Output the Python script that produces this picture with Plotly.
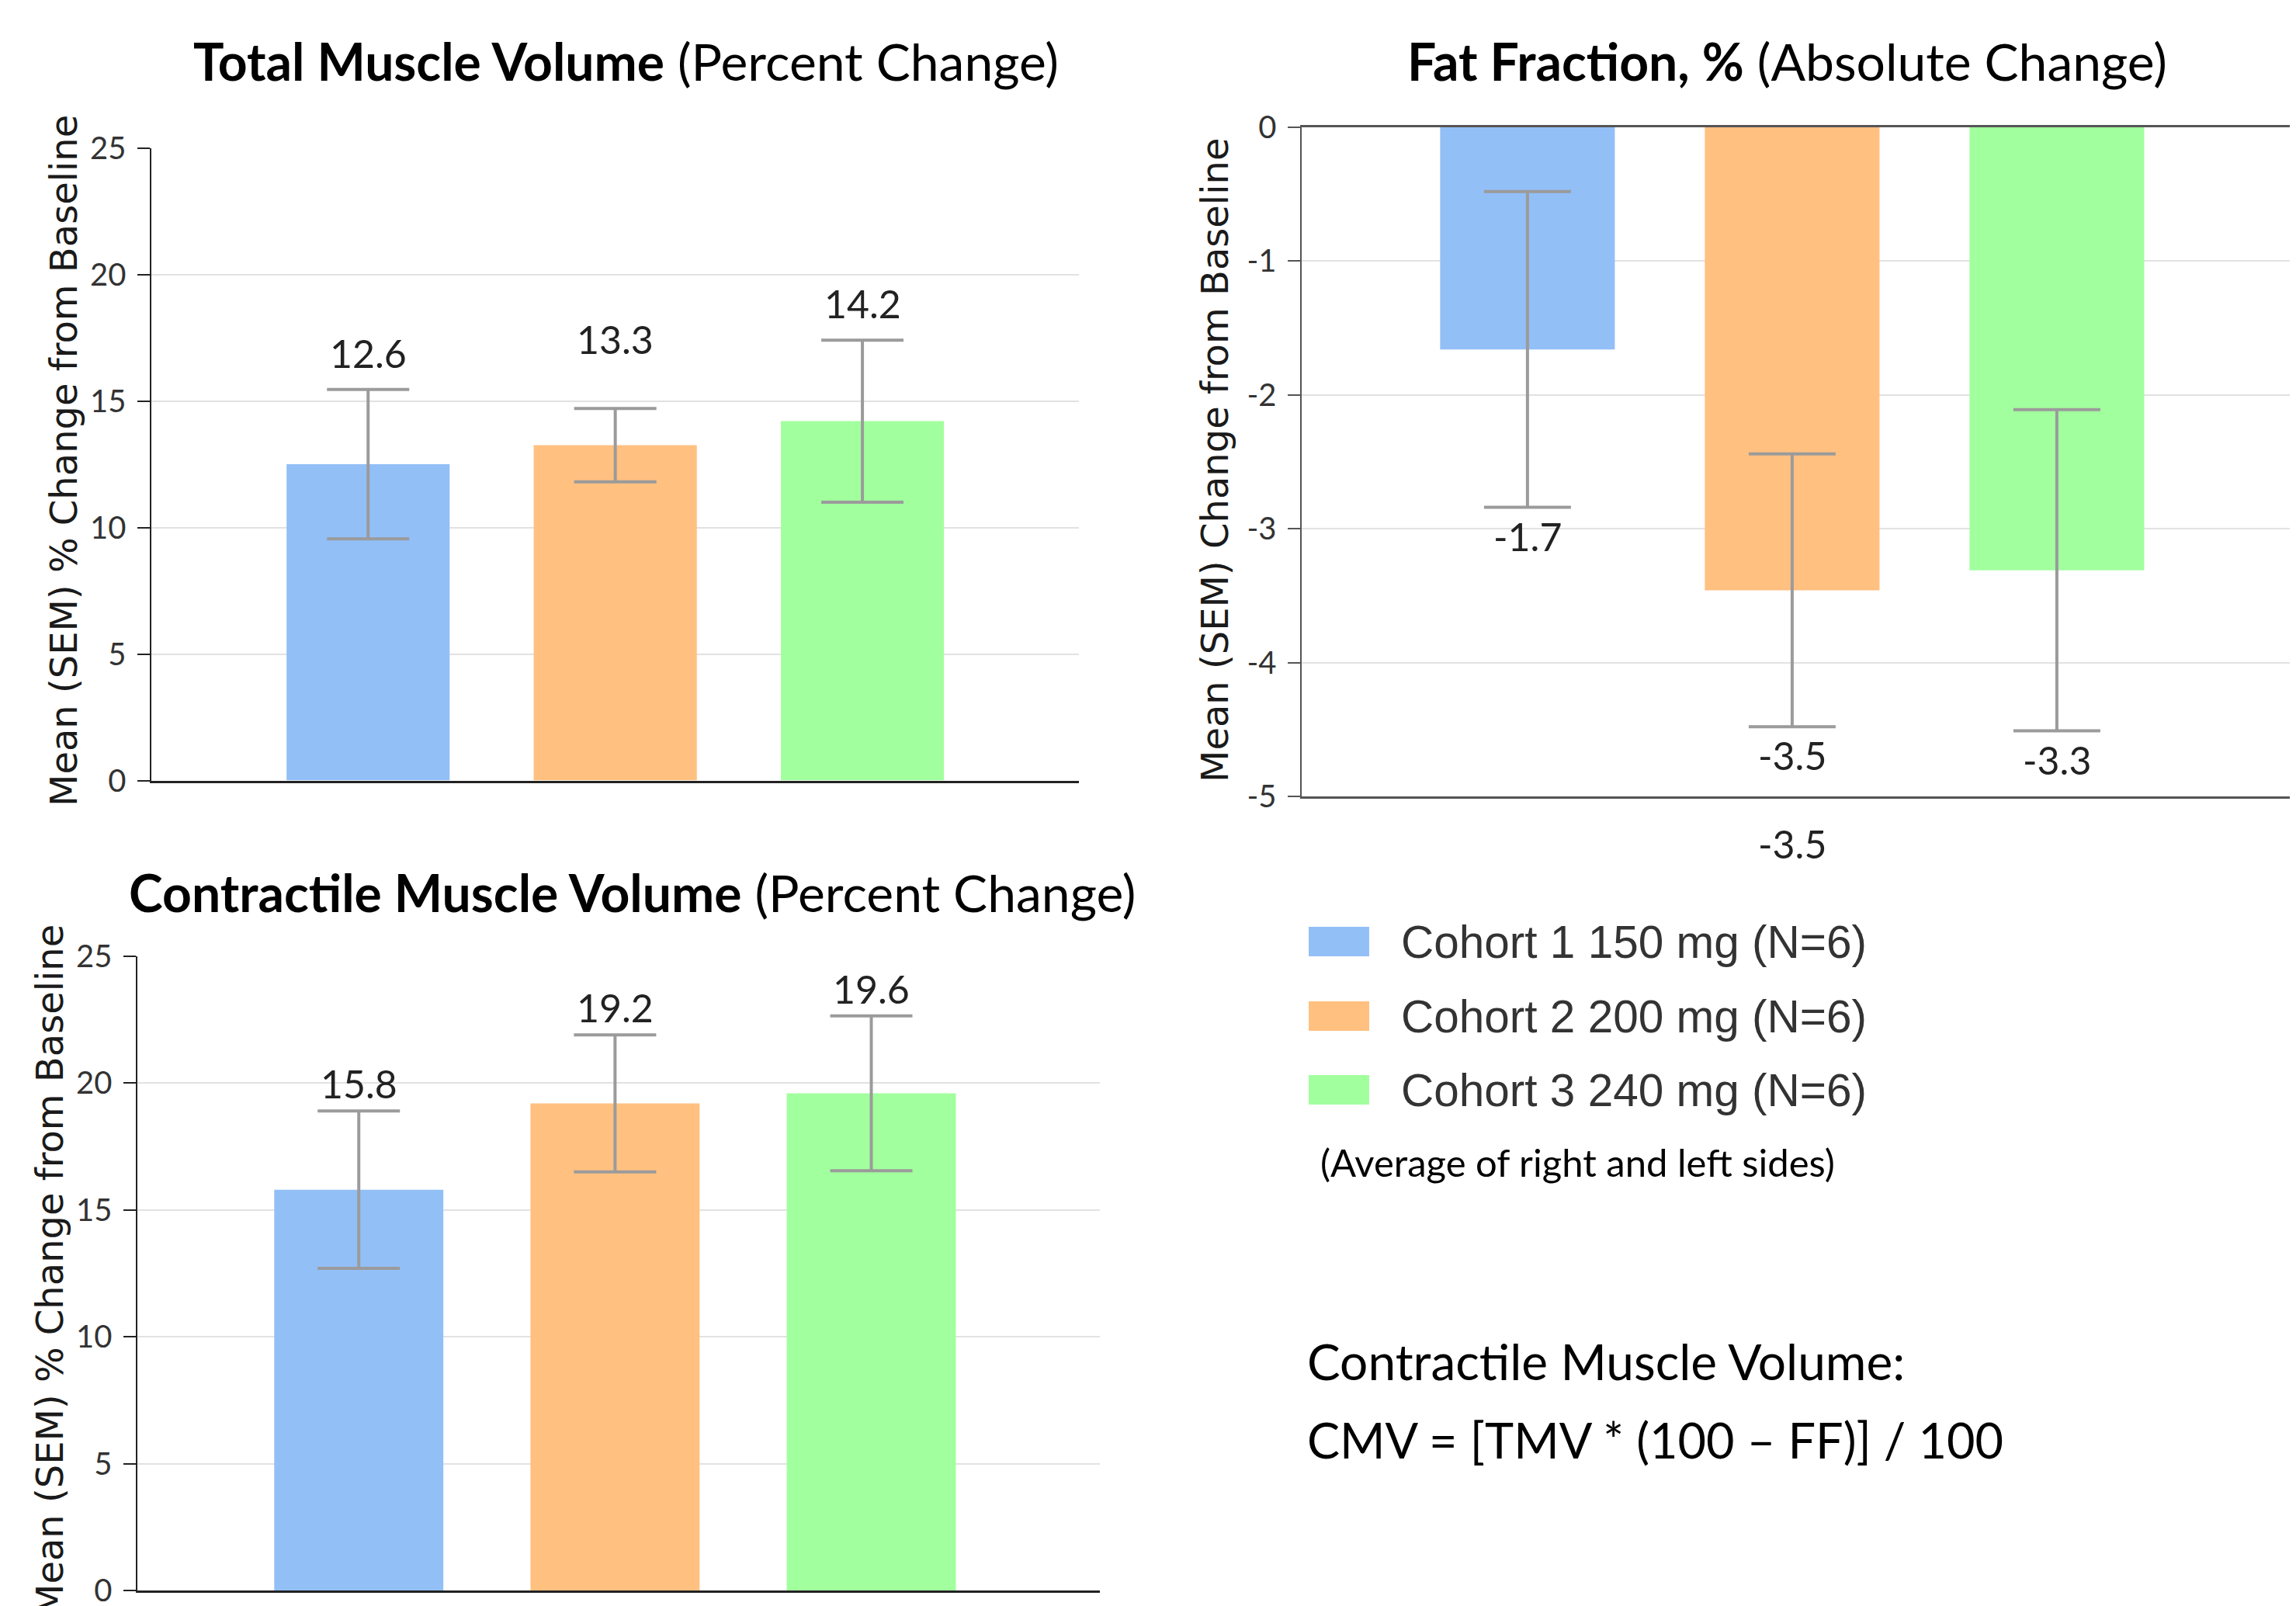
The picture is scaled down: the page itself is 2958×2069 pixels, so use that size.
import plotly.graph_objects as go

# ---------------- data ----------------
cohorts = ["Cohort 1 150 mg (N=6)", "Cohort 2 200 mg (N=6)", "Cohort 3 240 mg (N=6)"]
colors = ["#93BFF7", "#FFC080", "#A2FF9E"]

tmv_mean = [12.5, 13.25, 14.2]
tmv_sem = [2.95, 1.45, 3.2]
tmv_labels = ["12.6", "13.3", "14.2"]

ff_mean = [-1.66, -3.46, -3.31]
ff_sem = [1.18, 1.02, 1.2]
ff_labels = ["-1.7", "-3.5", "-3.3"]

cmv_mean = [15.8, 19.2, 19.6]
cmv_sem = [3.1, 2.7, 3.05]
cmv_labels = ["15.8", "19.2", "19.6"]

pct_ticks = [0, 5, 10, 15, 20, 25]
ff_ticks = [0, -1, -2, -3, -4, -5]
ff_ticktext = ["0", "-1", "-2", "-3", "-4", "-5"]

W, H = 2958, 2069
def px(x):
    return x / W
def py(y):
    return 1 - y / H

TITLE_FONT = "Lato"
LABEL_FONT = "Lato"
AXT_FONT = "DejaVu Sans"
ERR_COLOR = "#9b9b9b"

fig = go.Figure()

panels = [
    (tmv_mean, tmv_sem, "x", "y", 53),
    (ff_mean, ff_sem, "x2", "y2", 56),
    (cmv_mean, cmv_sem, "x3", "y3", 53),
]
for mean, sem, xa, ya, capw in panels:
    fig.add_trace(go.Bar(
        x=cohorts, y=mean, marker=dict(color=colors, line=dict(width=0)),
        width=0.66,
        error_y=dict(type="data", array=sem, visible=True, color=ERR_COLOR,
                     thickness=4, width=capw),
        xaxis=xa, yaxis=ya, showlegend=False, hoverinfo="skip",
    ))

annotations = []
LBL = dict(family=LABEL_FONT, size=50, color="#222")
tmv_extra_shift = [0, 42, 0]
for i, c in enumerate(cohorts):
    annotations.append(dict(x=c, y=tmv_mean[i] + tmv_sem[i], xref="x", yref="y",
                            text=tmv_labels[i], showarrow=False, yanchor="middle",
                            yshift=47 + tmv_extra_shift[i], font=LBL))
    annotations.append(dict(x=c, y=cmv_mean[i] + cmv_sem[i], xref="x3", yref="y3",
                            text=cmv_labels[i], showarrow=False, yanchor="middle",
                            yshift=35, font=LBL))
    annotations.append(dict(x=c, y=ff_mean[i] - ff_sem[i], xref="x2", yref="y2",
                            text=ff_labels[i], showarrow=False, yanchor="middle",
                            yshift=-37, font=LBL))
# stray label under fat-fraction chart
annotations.append(dict(x=cohorts[1], y=py(1087), xref="x2", yref="paper",
                        text=ff_labels[1], showarrow=False, yanchor="middle", font=LBL))

titles = [
    ("<b>Total Muscle Volume</b> (Percent Change)", 806, 79),
    ("<b>Fat Fraction, %</b> (Absolute Change)", 2302, 79),
    ("<b>Contractile Muscle Volume</b> (Percent Change)", 814, 1149),
]
for t, x, y in titles:
    annotations.append(dict(x=px(x), y=py(y), xref="paper", yref="paper", text=t,
                            showarrow=False, xanchor="center", yanchor="middle",
                            font=dict(family=TITLE_FONT, size=66, color="#000")))

ytitle = "Mean (SEM) % Change from Baseline"
ytitle2 = "Mean (SEM) Change from Baseline"
for t, x, y in [(ytitle, 82, 594), (ytitle2, 1565, 593), (ytitle, 64, 1637)]:
    annotations.append(dict(x=px(x), y=py(y), xref="paper", yref="paper", text=t,
                            textangle=-90, showarrow=False, xanchor="center",
                            yanchor="middle",
                            font=dict(family=AXT_FONT, size=48, color="#1a1a1a")))

shapes = []
leg_rows = [1213, 1309, 1404]
for i, c in enumerate(cohorts):
    yc = leg_rows[i]
    shapes.append(dict(type="rect", xref="paper", yref="paper",
                       x0=px(1686), x1=px(1764), y0=py(yc + 19), y1=py(yc - 19),
                       fillcolor=colors[i], line=dict(width=0)))
    annotations.append(dict(x=px(1803), y=py(yc), xref="paper", yref="paper", text=c,
                            showarrow=False, xanchor="left", yanchor="middle",
                            font=dict(family="Liberation Sans", size=58.5, color="#333")))

notes = [
    ("(Average of right and left sides)", 1699, 1497, 49),
    ("Contractile Muscle Volume:", 1682, 1753, 64),
    ("CMV = [TMV * (100 \u2013 FF)] / 100", 1682, 1854, 63),
]
for t, x, y, s in notes:
    annotations.append(dict(x=px(x), y=py(y), xref="paper", yref="paper", text=t,
                            showarrow=False, xanchor="left", yanchor="middle",
                            font=dict(family=TITLE_FONT, size=s, color="#000")))

tickfont = dict(family=LABEL_FONT, size=40, color="#333")

def xax(domain, rng, anchor, linecolor, mirror=False):
    return dict(domain=domain, range=rng, anchor=anchor, showticklabels=False,
                ticks="", showgrid=False, showline=True, linecolor=linecolor,
                linewidth=3, mirror=mirror, zeroline=False, fixedrange=True,
                automargin=False)

def yax(domain, rng, anchor, tickvals, ticktext, linecolor):
    return dict(domain=domain, range=rng, anchor=anchor, tickmode="array",
                tickvals=tickvals, ticktext=ticktext, ticks="outside", ticklen=16,
                tickwidth=2, tickcolor=linecolor, showline=True, linecolor=linecolor,
                linewidth=2.5, showgrid=True, gridcolor="#e2e2e2", gridwidth=2,
                zeroline=False, tickfont=tickfont, ticklabelstandoff=6,
                ticklabeloverflow="allow", fixedrange=True, automargin=False)

fig.update_layout(
    width=W, height=H, margin=dict(l=0, r=0, t=0, b=0, pad=0, autoexpand=False),
    paper_bgcolor="white", plot_bgcolor="white",
    xaxis=xax([px(195), px(1390)], [-0.877, 2.876], "y", "#222"),
    yaxis=yax([py(1005.5), py(190.5)], [0, 25], "x", pct_ticks,
              [str(v) for v in pct_ticks], "#222"),
    xaxis2=xax([px(1677), px(2950)], [-0.853, 2.88], "y2", "#555", mirror=True),
    yaxis2=yax([py(1026), py(164)], [-5, 0], "x2", ff_ticks, ff_ticktext, "#555"),
    xaxis3=xax([px(177), px(1417)], [-0.864, 2.892], "y3", "#222"),
    yaxis3=yax([py(2049), py(1232)], [0, 25], "x3", pct_ticks,
               [str(v) for v in pct_ticks], "#222"),
    annotations=annotations, shapes=shapes,
)

fig.write_html("out.html", config={"displayModeBar": False, "staticPlot": True},
               post_script="document.body.style.margin='0';document.body.style.overflow='hidden';")
